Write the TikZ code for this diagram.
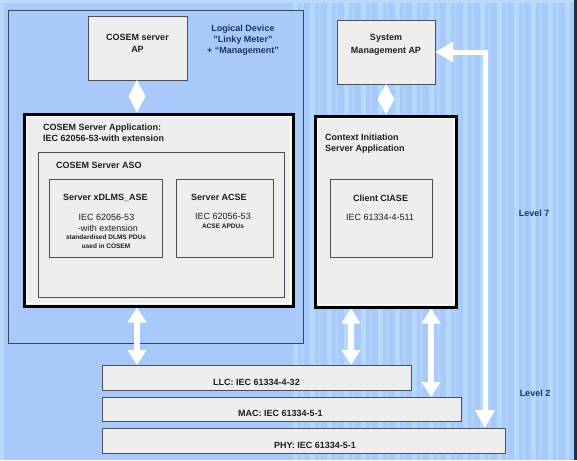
\documentclass[tikz,border=0pt]{standalone}
\usepackage{fontspec}
\setmainfont{Liberation Sans}
\usetikzlibrary{arrows.meta,calc}
\definecolor{bgblue}{HTML}{A8C9FA}
\definecolor{stripeA}{HTML}{B3DAFB}
\definecolor{stripeB}{HTML}{AED2FB}
\definecolor{edgelight}{HTML}{BBD9FC}
\definecolor{edgedark}{HTML}{17304A}
\definecolor{boxfill}{HTML}{EEEEEE}
\definecolor{boxline}{HTML}{4A4F58}
\definecolor{logline}{HTML}{2E4E5E}
\definecolor{navy}{HTML}{1C3466}
\definecolor{txt}{HTML}{1E1E1E}
\begin{document}
\begin{tikzpicture}[x=1pt,y=-1pt,
  box/.style={draw=boxline, fill=boxfill, line width=0.8pt, inner sep=0pt, outer sep=0pt, anchor=north west},
  thickbox/.style={box, draw=black, line width=3pt},
  title/.style={font=\fontsize{9}{10.5}\selectfont\bfseries, text=txt, inner sep=0pt},
  plain/.style={font=\fontsize{9}{10.5}\selectfont, text=txt, inner sep=0pt},
  small/.style={font=\fontsize{6.5}{9}\selectfont\bfseries, text=txt, inner sep=0pt},
  lvl/.style={font=\fontsize{9}{11}\selectfont\bfseries, text=navy, inner sep=0pt},
  fat/.style={draw=white, line width=6pt, {Triangle[width=18pt,length=15pt]}-{Triangle[width=18pt,length=15pt]}},
  bent/.style={draw=white, line width=5pt, {Triangle[width=19pt,length=18pt]}-{Triangle[width=19pt,length=18pt]}}
]
\useasboundingbox (0,0) rectangle (577,460);
% background
\fill[bgblue] (0,0) rectangle (577,460);
\foreach \i in {0,...,16} {
  \fill[stripeA] ({293+17*\i},0) rectangle ++(5,460);
  \fill[stripeB] ({301+17*\i},0) rectangle ++(3,460);
}
\fill[edgelight] (0,0) rectangle (577,3);
\fill[edgelight] (0,0) rectangle (4,460);
\fill[edgedark] (574,0) rectangle (577,460);

% logical device frame
\node[box, draw=logline, fill=bgblue, line width=0.9pt, minimum width=295pt, minimum height=333pt] (logical) at (8,10) {};
\node[lvl, align=center, font=\fontsize{9}{11}\selectfont\bfseries] (logtxt) at (243,40) {Logical Device\\"Linky Meter"\\+ “Management”};

% AP boxes
\node[box, minimum width=99pt, minimum height=64pt] (ap) at (88,16) {};
\node[title, align=center, font=\fontsize{9}{12}\selectfont\bfseries] (aptxt) at (137.5,43) {COSEM server\\AP};
\node[box, minimum width=98pt, minimum height=64pt] (sys) at (337,20) {};
\node[title, align=center, font=\fontsize{9}{12.5}\selectfont\bfseries] (systxt) at (386,45) {System\\Management AP};

% COSEM server application
\node[thickbox, minimum width=269pt, minimum height=192pt] (app) at (24,114) {};
\draw[white, line width=0.8pt] ($(app.north west)+(2.4,2.4)$) rectangle ($(app.south east)+(-2.4,-2.4)$);
\node[title, anchor=west, align=left, font=\fontsize{9}{10.5}\selectfont\bfseries] (apptxt) at (43,133) {COSEM Server Application:\\IEC 62056-53-with extension};
\node[box, minimum width=246pt, minimum height=145pt] (aso) at (38,152) {};
\node[title, anchor=west] (asotxt) at (56,165) {COSEM Server ASO};
\node[box, minimum width=113pt, minimum height=78pt] (xdlms) at (49,179) {};
\node[title] (xdt) at (105.5,198) {Server xDLMS\_ASE};
\node[plain] (xd1) at (106.5,217) {IEC 62056-53};
\node[plain] (xd2) at (108,228) {-with extension};
\node[small] (xd3) at (106,237.5) {standardised DLMS PDUs};
\node[small] (xd4) at (106,246.5) {used in COSEM};
\node[box, minimum width=97pt, minimum height=78pt] (acse) at (176,179) {};
\node[title] (act) at (219,197) {Server ACSE};
\node[plain] (ac1) at (223,216) {IEC 62056-53};
\node[small] (ac2) at (223,226) {ACSE APDUs};

% context initiation
\node[thickbox, minimum width=141pt, minimum height=191pt] (ctx) at (315,116) {};
\draw[white, line width=0.8pt] ($(ctx.north west)+(2.4,2.4)$) rectangle ($(ctx.south east)+(-2.4,-2.4)$);
\node[title, anchor=west, align=left, font=\fontsize{9}{11}\selectfont\bfseries] (ctxtxt) at (325,143.5) {Context Initiation\\Server Application};
\node[box, minimum width=102pt, minimum height=78pt] (ciase) at (330,179) {};
\node[title] (cit) at (380.5,198) {Client CIASE};
\node[plain] (ci1) at (380,217) {IEC 61334-4-511};

% levels
\node[lvl] (l7) at (534,213) {Level 7};
\node[lvl] (l2) at (535,393) {Level 2};

% lower layers
\node[box, minimum width=309pt, minimum height=25pt] (llc) at (102,365) {};
\node[title] (llctxt) at (256.5,382) {LLC: IEC 61334-4-32};
\node[box, minimum width=359pt, minimum height=24pt] (mac) at (102,397) {};
\node[title] (mactxt) at (280.5,413) {MAC: IEC 61334-5-1};
\node[box, minimum width=403pt, minimum height=25pt] (phy) at (102,428) {};
\node[title] (phytxt) at (315,445) {PHY: IEC 61334-5-1};

% arrow columns
\coordinate (cA) at (137,0);
\coordinate (cB) at (386,0);
\coordinate (cC) at (351,0);
\coordinate (cD) at (431,0);
\coordinate (cE) at (485,0);

% diamond-shaped double arrows
\fill[white] let \p1=(ap.south -| cA), \p2=($(app.north -| cA)+(0,-1.5)$) in
  (\x1,\y1) -- (\x1+8.5pt,{0.5*\y1+0.5*\y2}) -- (\x2,\y2) -- (\x1-8.5pt,{0.5*\y1+0.5*\y2}) -- cycle;
\fill[white] let \p1=(sys.south -| cB), \p2=($(ctx.north -| cB)+(0,-1.5)$) in
  (\x1,\y1) -- (\x1+8.5pt,{0.5*\y1+0.5*\y2}) -- (\x2,\y2) -- (\x1-8.5pt,{0.5*\y1+0.5*\y2}) -- cycle;

\draw[fat] ($(app.south -| cA)+(0,1.5)$) -- (llc.north -| cA);
\draw[fat] ($(ctx.south -| cC)+(0,1.5)$) -- (llc.north -| cC);
\draw[fat] ($(ctx.south -| cD)+(0,1.5)$) -- (mac.north -| cD);
\draw[bent] (phy.north -| cE) |- (sys.east);
\end{tikzpicture}
\end{document}
